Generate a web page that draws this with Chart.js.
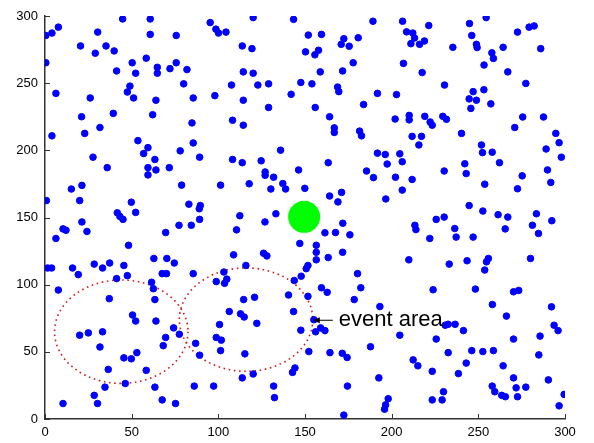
<!DOCTYPE html>
<html>
<head>
<meta charset="utf-8">
<title>sensor field</title>
<script src="https://cdn.jsdelivr.net/npm/chart.js@4/dist/chart.umd.min.js"></script>
<style>
	html, body { margin: 0; padding: 0; background: #fff; }
	canvas { display: block; }
</style>
</head>
<body>
<canvas id="chartCanvas" width="594" height="443"></canvas>
<script>
// sensor nodes (left to right by region)
const nodeX = [
	44.8,60.7,7.7,4.0,0.5,30.4,60.7,20.5,35.2,29.0,39.9,58.4,0.5,50.3,41.3,52.3,64.8,64.8,72.1,6.3,49.0,47.5,51.1,26.1,64.0,21.1,39.4,62.1,31.7,4.0,22.9,53.6,59.4,
	56.9,27.7,63.4,35.9,59.4,64.0,71.7,59.4,15.2,21.3,0.8,20.0,49.8,41.7,43.2,45.0,52.3,21.3,10.4,12.1,24.2,6.3,69.6,48.2,1.5,3.8,15.9,19.2,28.4,33.2,37.3,45.5,47.5,41.3,62.8,70.3,67.6,70.1,61.5,
	7.7,62.5,63.4,37.1,50.5,52.3,64.0,20.0,25.0,33.2,31.7,69.6,68.2,53.0,45.5,49.8,36.5,58.4,46.3,34.6,63.4,28.4,30.3,10.4,67.6,
	95.3,120.1,143.4,98.6,100.1,104.4,75.7,113.8,119.4,75.7,81.9,114.4,120.1,80.0,107.6,122.8,129.0,147.6,85.5,98.0,114.4,142.0,129.0,84.8,108.2,114.4,85.5,
	78.0,89.2,135.9,108.2,113.8,124.7,146.3,127.0,127.0,131.9,137.2,138.8,130.3,78.8,101.3,117.8,83.0,89.6,89.0,112.4,133.2,77.3,84.4,89.2,126.9,110.5,147.0,108.8,126.1,128.0,74.6,115.9,85.5,103.2,104.9,98.8,103.6,143.8,147.8,
	114.6,120.9,140.5,106.3,112.8,114.9,143.4,122.2,100.7,74.2,77.5,147.6,98.8,101.7,86.9,101.3,89.2,115.3,144.2,142.8,120.1,113.8,86.1,97.3,131.9,132.4,75.3,
	189.2,206.3,221.4,151.9,159.5,208.6,212.2,213.2,211.1,216.1,218.9,172.4,170.9,175.5,180.7,150.3,155.7,157.8,177.8,206.8,158.8,171.7,217.6,154.0,168.8,169.5,191.8,202.8,183.8,155.9,164.2,202.0,210.1,210.1,219.1,222.2,223.4,166.9,166.9,181.5,182.6,211.8,217.2,215.7,
	191.8,196.3,204.7,163.4,197.4,206.1,185.5,189.5,202.2,211.8,149.9,206.1,171.1,164.2,169.0,196.6,171.8,161.5,167.6,175.9,213.4,214.0,222.0,156.5,156.5,156.5,163.4,171.7,151.7,150.7,209.9,180.3,
	159.5,162.8,151.7,182.2,178.4,223.9,193.2,155.1,156.1,159.0,161.5,152.2,164.4,171.5,174.3,187.8,204.7,212.4,215.1,223.4,192.6,174.5,198.0,196.5,195.9,172.4,223.4,
	254.5,244.9,246.2,272.6,279.3,282.2,235.3,248.9,249.3,264.3,286.0,257.8,258.7,253.3,267.0,230.5,277.4,247.0,253.2,244.7,248.9,245.7,257.2,229.5,231.6,275.6,287.6,271.0,240.3,294.7,296.6,251.8,289.1,
	252.4,258.0,297.9,242.2,262.2,230.3,243.0,289.9,275.3,253.7,272.6,291.8,244.7,252.6,225.7,230.3,261.4,267.0,283.5,292.4,281.2,236.4,265.5,284.7,237.2,247.0,233.2,243.5,255.8,254.7,253.7,280.1,
	248.3,270.3,273.3,258.1,292.2,266.2,230.9,232.6,236.6,241.4,293.7,296.0,225.7,270.3,285.6,232.6,246.2,252.6,258.7,284.9,243.0,238.5,264.3,270.3,290.4,258.0,259.5,271.8,277.4,263.5,265.6,272.6,229.9,229.1,299.5,296.6
]
const nodeY = [
	297.8,297.8,291.7,287.3,285.5,288.0,286.3,277.7,277.7,272.3,274.0,268.6,265.2,265.2,259.1,257.4,261.8,257.4,260.8,242.4,247.8,243.4,239.0,239.0,237.3,225.0,227.5,226.5,217.0,210.8,212.6,207.2,202.0,
	197.6,194.9,193.2,187.1,187.1,185.4,187.1,181.7,171.2,173.9,162.6,162.6,161.4,153.5,150.8,148.6,153.8,146.7,141.5,140.5,139.6,134.4,138.8,129.3,112.4,112.4,112.4,107.5,115.3,112.4,116.1,114.3,106.7,104.5,119.5,119.5,108.2,108.2,101.8,
	96.0,97.0,88.9,89.6,77.4,72.9,72.9,62.4,64.1,64.9,53.6,60.7,54.6,49.4,45.5,44.8,36.9,36.2,26.4,23.7,23.7,17.6,11.5,11.5,14.2,
	295.1,298.8,297.5,290.2,287.3,288.0,285.5,277.7,275.7,265.2,260.1,258.4,257.4,249.5,248.6,248.6,249.5,250.5,239.0,240.7,237.3,241.7,231.9,220.4,222.4,218.7,205.5,
	199.6,194.9,200.1,193.2,190.8,192.2,185.4,183.9,181.4,180.0,175.3,171.2,171.2,174.1,174.1,175.1,159.9,158.9,156.5,151.3,152.8,144.2,144.2,148.6,146.7,140.8,130.7,122.2,123.4,121.4,116.1,114.3,108.2,109.4,104.1,102.3,101.0,103.1,106.3,
	88.9,90.6,92.3,80.0,78.3,75.9,80.0,71.2,70.3,67.8,63.1,66.1,60.7,58.7,56.3,50.9,47.5,48.5,38.0,34.7,33.5,30.6,24.5,24.5,24.5,15.9,11.5,
	296.1,296.1,292.9,285.8,286.3,288.2,287.3,283.6,279.4,278.9,281.4,283.1,278.9,277.5,283.8,273.3,271.1,274.5,265.2,264.7,258.4,259.1,257.9,249.5,247.1,243.7,242.4,241.5,234.1,231.9,225.0,223.3,226.0,222.7,225.3,221.1,218.7,216.7,213.3,214.3,210.8,210.4,210.4,204.0,
	197.9,196.9,197.4,190.8,189.8,191.5,184.6,179.7,180.0,178.3,171.7,170.4,168.7,166.0,161.6,163.8,145.7,138.6,138.8,137.1,144.2,141.0,134.4,129.3,124.1,118.5,120.2,124.1,114.3,111.9,118.5,108.2,
	97.7,94.3,91.3,97.7,88.9,96.2,83.7,73.9,64.9,67.8,65.8,50.2,49.4,48.9,45.8,53.8,62.4,44.0,39.6,35.5,30.6,24.5,15.1,10.5,7.3,2.9,14.2,
	298.8,294.4,285.5,288.0,291.7,292.6,276.7,278.9,276.5,276.7,275.7,272.6,268.4,263.5,258.4,248.6,249.8,243.7,245.1,238.3,237.3,231.2,234.6,225.3,223.1,224.8,224.8,217.0,212.6,212.6,205.7,204.0,201.0,
	198.3,198.6,194.9,190.0,190.8,184.6,182.7,185.4,181.0,174.8,171.4,176.1,158.9,154.8,148.6,150.3,152.1,150.3,152.8,147.6,144.2,141.8,141.5,138.1,135.4,135.4,115.3,117.8,119.5,117.0,110.9,119.5,
	96.7,94.7,95.7,85.2,83.5,76.6,69.8,70.5,70.5,65.8,69.8,65.8,59.5,59.5,61.7,49.4,50.9,50.2,50.9,47.7,41.6,33.8,39.6,30.6,29.1,24.5,20.3,23.2,23.7,17.6,16.6,16.6,20.3,14.2,18.3,9.8
]

// sink node (green)
const sinkX = [149.5]
const sinkY = [150.5]

// event areas (red dotted circles): centre and radius in data units
const eventCx = [44, 116]
const eventCy = [65, 74]
const eventR = [38.5, 38.5]

const tickValues = [0, 50, 100, 150, 200, 250, 300]

const LABEL_TEXT = 'event area'
const LABEL_AT = [169.5, 73.5]   // left edge / middle of text
const ARROW_TIP = [154.5, 73.5]

const FONT = "'Liberation Sans', Arial, Helvetica, sans-serif"
const AXIS_COLOR = '#333'

function toPoints(xs, ys) {
	let pts = []
	for (let i = 0; i < xs.length; i++) pts.push({ x: xs[i], y: ys[i] })
	return pts
}

// red dotted circles, drawn through the scales
const eventAreas = {
	id: 'eventAreas',
	beforeDatasetsDraw(chart) {
		const ctx = chart.ctx, xs = chart.scales.x, ys = chart.scales.y
		ctx.save()
		ctx.strokeStyle = '#d41a1a'
		ctx.lineWidth = 1.6
		ctx.setLineDash([1.6, 3.6])
		for (let i = 0; i < eventCx.length; i++) {
			let cx = xs.getPixelForValue(eventCx[i])
			let cy = ys.getPixelForValue(eventCy[i])
			let rx = xs.getPixelForValue(eventCx[i] + eventR[i]) - cx
			let ry = cy - ys.getPixelForValue(eventCy[i] + eventR[i])
			ctx.beginPath()
			ctx.ellipse(cx, cy, rx, ry, 0, 0, 2 * Math.PI)
			ctx.stroke()
		}
		ctx.restore()
	}
}

// inward tick marks (matlab style), label and arrow
const decorations = {
	id: 'decorations',
	afterDraw(chart) {
		const ctx = chart.ctx, xs = chart.scales.x, ys = chart.scales.y
		const area = chart.chartArea
		ctx.save()
		ctx.strokeStyle = AXIS_COLOR
		ctx.lineWidth = 1
		tickValues.forEach(v => {
			let px = Math.round(xs.getPixelForValue(v)) + 0.5
			ctx.beginPath(); ctx.moveTo(px, area.bottom); ctx.lineTo(px, area.bottom - 5); ctx.stroke()
			let py = Math.round(ys.getPixelForValue(v)) + 0.5
			ctx.beginPath(); ctx.moveTo(area.left, py); ctx.lineTo(area.left + 5, py); ctx.stroke()
		})

		// annotation
		let tx = xs.getPixelForValue(LABEL_AT[0])
		let ty = ys.getPixelForValue(LABEL_AT[1])
		let ax = xs.getPixelForValue(ARROW_TIP[0])
		let ay = ys.getPixelForValue(ARROW_TIP[1])
		ctx.strokeStyle = '#000'
		ctx.fillStyle = '#000'
		ctx.lineWidth = 1
		ctx.beginPath(); ctx.moveTo(tx - 6, ay); ctx.lineTo(ax + 3, ay); ctx.stroke()
		ctx.beginPath()
		ctx.moveTo(ax, ay)
		ctx.lineTo(ax + 7, ay - 3)
		ctx.lineTo(ax + 7, ay + 3)
		ctx.closePath()
		ctx.fill()

		ctx.font = '22px ' + FONT
		ctx.textAlign = 'left'
		ctx.textBaseline = 'middle'
		ctx.fillText(LABEL_TEXT, tx, ty)
		ctx.restore()
	}
}

function axisOptions(isX) {
	return {
		type: 'linear',
		min: 0,
		max: 300,
		afterBuildTicks: function(scale) {
			scale.ticks = tickValues.map(v => ({ value: v }))
		},
		afterFit: function(scale) {
			if (isX) scale.height = 24
			else scale.width = 45
		},
		grid: { display: false, drawTicks: false },
		border: { display: true, color: AXIS_COLOR, width: 1.5 },
		ticks: {
			color: '#000',
			padding: isX ? 6 : 7,
			font: { family: FONT, size: 13 },
			maxRotation: 0,
			autoSkip: false
		}
	}
}

window.onload = function() {
	let ctx = document.getElementById('chartCanvas')
	window.myChart = new Chart(ctx, {
		type: 'scatter',
		data: {
			datasets: [
				{
					label: 'nodes',
					data: toPoints(nodeX, nodeY),
					backgroundColor: '#0000ff',
					borderColor: '#0000ff',
					borderWidth: 1,
					pointRadius: 3.3,
					pointStyle: 'circle'
				},
				{
					label: 'sink',
					data: toPoints(sinkX, sinkY),
					backgroundColor: '#00ff00',
					borderColor: '#00ff00',
					borderWidth: 0,
					pointRadius: 16
				}
			]
		},
		options: {
			responsive: false,
			animation: false,
			devicePixelRatio: 1,
			layout: { padding: { top: 11, right: 29, left: 0, bottom: 0 } },
			plugins: { legend: { display: false }, tooltip: { enabled: false } },
			scales: { x: axisOptions(true), y: axisOptions(false) }
		},
		plugins: [eventAreas, decorations]
	})
}
</script>
</body>
</html>
